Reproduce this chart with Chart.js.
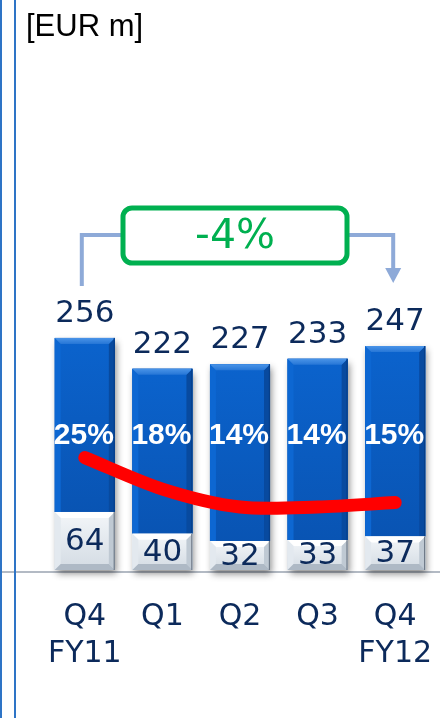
<!DOCTYPE html>
<html><head><meta charset="utf-8">
<script src="https://cdn.jsdelivr.net/npm/chart.js@4/dist/chart.umd.min.js"></script>
<style>html,body{margin:0;padding:0;background:#fff;overflow:hidden}#wrap{width:440px;height:718px;position:relative}</style>
</head><body><div id="wrap"><canvas id="c" width="440" height="718"></canvas></div>
<script>
// ---- data ----
const categories = [["Q4","FY11"],"Q1","Q2","Q3",["Q4","FY12"]];
const baseValues = [64,40,32,33,37];
const totalValues = [256,222,227,233,247];
const marginPct = [25,18,14,14,15];
const unitLabel = "[EUR m]";
const upperValues = totalValues.map((t,i)=>t-baseValues[i]);

const NAVY = '#0c2a5b';
const NUMFONT = '"DejaVu Sans", Verdana, sans-serif';

function poly(ctx, pts, fill){
  ctx.beginPath(); ctx.moveTo(pts[0][0],pts[0][1]);
  for(let i=1;i<pts.length;i++) ctx.lineTo(pts[i][0],pts[i][1]);
  ctx.closePath(); ctx.fillStyle=fill; ctx.fill();
}

const barStyle = {
  id:'barStyle',
  beforeDatasetsDraw(chart){
    const ctx = chart.ctx;
    const yb = chart.scales.y.getPixelForValue(0);
    ctx.save();
    ctx.strokeStyle='#9aa3b0'; ctx.lineWidth=1.5;
    ctx.beginPath(); ctx.moveTo(0,yb+2); ctx.lineTo(440,yb+2); ctx.stroke();
    const m0 = chart.getDatasetMeta(1), m1 = chart.getDatasetMeta(2);
    m0.data.forEach((el,i)=>{
      const p = el.getProps(['x','width','base'],true);
      const top = m1.data[i].getProps(['y'],true).y;
      ctx.save();
      ctx.shadowColor='rgba(0,0,0,0.45)'; ctx.shadowBlur=7; ctx.shadowOffsetX=2; ctx.shadowOffsetY=4;
      ctx.fillStyle='#c9d2dc';
      ctx.fillRect(p.x-p.width/2, top, p.width, p.base-top);
      ctx.restore();
    });
    ctx.restore();
  },
  afterDatasetDraw(chart, args){
    const ctx = chart.ctx;
    const idx = args.index;
    if(idx!==1 && idx!==2) return;
    const meta = chart.getDatasetMeta(idx);
    ctx.save();
    meta.data.forEach(el=>{
      const p = el.getProps(['x','y','base','width'],true);
      const x0=p.x-p.width/2, x1=p.x+p.width/2, y0=Math.min(p.y,p.base), y1=Math.max(p.y,p.base);
      const b=6;
      if(idx===2){
        const g=ctx.createLinearGradient(0,y0,0,y1);
        g.addColorStop(0,'#0b63cd'); g.addColorStop(1,'#0954b3');
        ctx.fillStyle=g; ctx.fillRect(x0,y0,x1-x0,y1-y0);
        poly(ctx,[[x0,y0],[x0+b,y0+b],[x0+b,y1],[x0,y1]],'#0d67d2');
        poly(ctx,[[x1,y0],[x1,y1],[x1-b,y1],[x1-b,y0+b]],'#084a9f');
        const gt=ctx.createLinearGradient(0,y0,0,y0+b);
        gt.addColorStop(0,'#4a94e8'); gt.addColorStop(1,'#2676d6');
        poly(ctx,[[x0,y0],[x1,y0],[x1-b,y0+b],[x0+b,y0+b]],gt);
        ctx.fillStyle='#063f8a'; ctx.fillRect(x1-1.2,y0,1.2,y1-y0);
      } else {
        const g=ctx.createLinearGradient(0,y0,0,y1);
        g.addColorStop(0,'#f3f6f9'); g.addColorStop(1,'#d3dbe3');
        ctx.fillStyle=g; ctx.fillRect(x0,y0,x1-x0,y1-y0);
        poly(ctx,[[x0,y0],[x1,y0],[x1-b,y0+b],[x0+b,y0+b]],'#ffffff');
        poly(ctx,[[x0,y0],[x0+b,y0+b],[x0+b,y1-b],[x0,y1]],'#e3e9ef');
        poly(ctx,[[x1,y0],[x1,y1],[x1-b,y1-b],[x1-b,y0+b]],'#bfc9d3');
        poly(ctx,[[x0,y1],[x1,y1],[x1-b,y1-b],[x0+b,y1-b]],'#aeb9c5');
        ctx.fillStyle='#6d7886'; ctx.fillRect(x1-1.2,y0,1.2,y1-y0);
      }
    });
    ctx.restore();
  },
  afterDraw(chart){
    const ctx = chart.ctx;
    const xs = chart.scales.x, ys = chart.scales.y;
    ctx.save();
    ctx.fillStyle='#2e74c6';
    ctx.fillRect(0,0,2,718);
    ctx.fillRect(14,0,2,718);
    ctx.fillStyle='#000'; ctx.font='31px "Liberation Sans", Arial, sans-serif';
    ctx.textAlign='left'; ctx.textBaseline='alphabetic';
    ctx.fillText(unitLabel, 26, 36);
    ctx.fillStyle=NAVY; ctx.font='31px '+NUMFONT; ctx.textAlign='center';
    totalValues.forEach((v,i)=>{
      ctx.fillText(String(v), xs.getPixelForValue(i), ys.getPixelForValue(v)-16);
    });
    ctx.textBaseline='middle';
    baseValues.forEach((v,i)=>{
      const yc=(ys.getPixelForValue(0)+ys.getPixelForValue(v))/2;
      ctx.fillText(String(v), xs.getPixelForValue(i), yc+1);
    });
    ctx.fillStyle='#ffffff'; ctx.font='bold 30px "Liberation Sans", Arial, sans-serif';
    const pctY = ys.getPixelForValue(148);
    marginPct.forEach((v,i)=>{
      ctx.fillText(v+'%', xs.getPixelForValue(i)-1, pctY);
    });
    const xa = xs.getPixelForValue(0)-3, xb = xs.getPixelForValue(totalValues.length-1)-2;
    const boxL=123, boxR=347, boxT=208, boxB=263, ym=235;
    ctx.strokeStyle='#8eaad8'; ctx.lineWidth=4; ctx.lineCap='butt';
    ctx.beginPath(); ctx.moveTo(xa,286); ctx.lineTo(xa,ym); ctx.lineTo(boxL,ym); ctx.stroke();
    ctx.beginPath(); ctx.moveTo(boxR,ym); ctx.lineTo(xb,ym); ctx.lineTo(xb,270); ctx.stroke();
    ctx.fillStyle='#8eaad8';
    ctx.beginPath(); ctx.moveTo(xb-8,268); ctx.lineTo(xb+8,268); ctx.lineTo(xb,283); ctx.closePath(); ctx.fill();
    ctx.strokeStyle='#00b050'; ctx.lineWidth=5; ctx.fillStyle='#fff';
    ctx.beginPath(); ctx.roundRect(boxL,boxT,boxR-boxL,boxB-boxT,9); ctx.fill(); ctx.stroke();
    const chg = Math.round((totalValues[totalValues.length-1]-totalValues[0])/totalValues[0]*100);
    ctx.fillStyle='#00b050'; ctx.font='41px '+NUMFONT; ctx.textAlign='center'; ctx.textBaseline='middle';
    ctx.fillText((chg>0?'+':'')+chg+'%', (boxL+boxR)/2, ym+2);
    ctx.restore();
  }
};

new Chart(document.getElementById('c'), {
  data: {
    labels: categories,
    datasets: [
      {type:'line', label:'margin', data: marginPct, yAxisID:'y2', borderColor:'#ff0000', borderWidth:13,
       pointRadius:0, tension:0.3, borderCapStyle:'round', borderJoinStyle:'round', order:0},
      {type:'bar', label:'base', data: baseValues, yAxisID:'y', stack:'s', backgroundColor:'#e9eef3',
       categoryPercentage:1, barPercentage:0.774, order:1},
      {type:'bar', label:'upper', data: upperValues, yAxisID:'y', stack:'s', backgroundColor:'#0a5cc2',
       categoryPercentage:1, barPercentage:0.774, order:2}
    ]
  },
  options: {
    responsive:false, animation:false, devicePixelRatio:1,
    layout:{padding:{left:46,right:6,top:26,bottom:0}},
    plugins:{legend:{display:false}, tooltip:{enabled:false}},
    scales:{
      x:{stacked:true, grid:{display:false, drawTicks:false}, border:{display:false},
         ticks:{color:NAVY, font:{family:'"DejaVu Sans", Verdana, sans-serif', size:30, lineHeight:1.22}, padding:29, maxRotation:0, autoSkip:false},
         afterFit(a){ a.height = 148; a.paddingLeft = 0; a.paddingRight = 0; }},
      y:{display:false, stacked:true, min:0, max:600},
      y2:{display:false, min:0, max:121}
    }
  },
  plugins:[barStyle]
});
</script>
</body></html>
